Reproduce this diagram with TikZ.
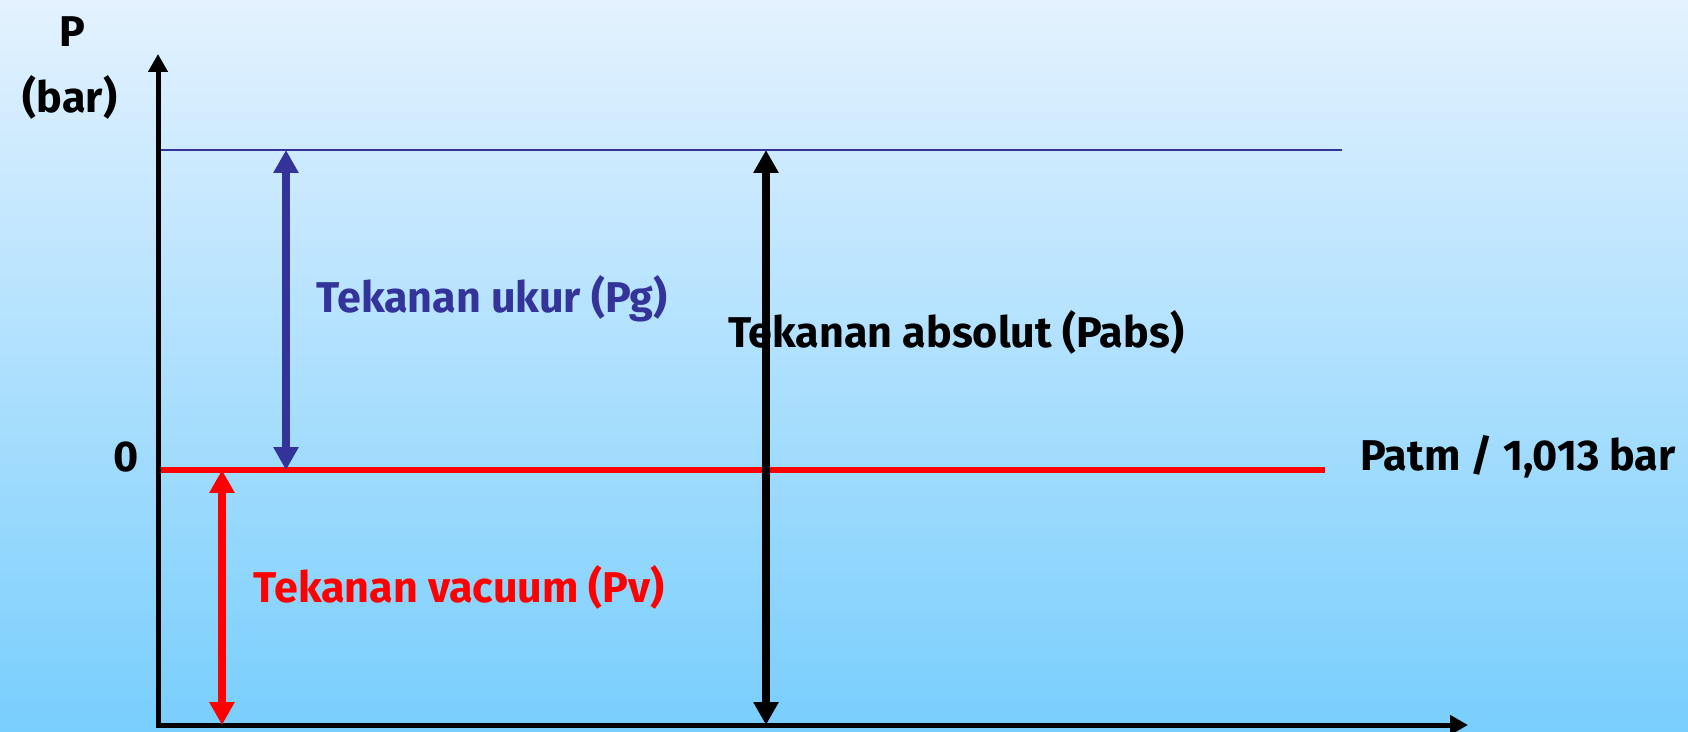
\documentclass[tikz,border=0pt]{standalone}
\usepackage{fontspec}
\setmainfont{Fira Sans}
\usepackage{xcolor}
\usepackage{tikz}
\usetikzlibrary{positioning,arrows.meta}
\definecolor{skytop}{RGB}{228,242,254}
\definecolor{skybot}{RGB}{120,206,253}
\definecolor{gaugeblue}{RGB}{51,51,153}

\tikzset{
  lbl/.style={font=\fontsize{24.5}{28}\selectfont\bfseries, inner sep=0pt},
  dimarrow/.style={<->, line width=0.16cm, >={Triangle[length=0.46cm, width=0.48cm]}},
}

\begin{document}
\begin{tikzpicture}[x=0.02cm, y=0.02cm]

% background
\shade[top color=skytop, bottom color=skybot] (0,0) rectangle (1688,731);
\useasboundingbox (0,0) rectangle (1688,731);

\coordinate (O) at (158,6);
\coordinate (ytop) at (158,677);
\coordinate (xend) at (1468,6);

% reference levels
\coordinate (absL) at (158,581);
\coordinate (absR) at (1342,581);
\coordinate (atmL) at (158,261);
\coordinate (atmR) at (1325,261);
\draw[gaugeblue, line width=0.05cm] (absL) -- (absR);
\draw[red, line width=0.11cm] (atmL) -- (atmR);

% axes
\draw[<->, line width=0.1cm, line join=miter, >={Triangle[length=0.36cm, width=0.38cm]}]
    (ytop) -- (O) -- (xend);

\node[lbl] (p) at (72,699) {P};
\node[lbl] (unit) at (70,634) {(bar)};
\node[lbl] (zero) at (126,274) {0};
\node[lbl] (patm) at (1518,274) {Patm / 1,013 bar};

% pressures
\coordinate (gtop) at (286,581);
\coordinate (gbot) at (286,261);
\coordinate (vtop) at (222,261);
\coordinate (vbot) at (222,6);
\coordinate (atop) at (766,581);
\coordinate (abot) at (766,6);

\node[lbl, text=gaugeblue] (pg) at (492,432) {Tekanan ukur (Pg)};
\node[lbl] (pabs) at (956,399) {Tekanan absolut (Pabs)};
\node[lbl, text=red] (pv) at (459,144) {Tekanan vacuum (Pv)};

\draw[dimarrow, gaugeblue] (gtop) -- (gbot);
\draw[dimarrow, red] (vtop) -- (vbot);
\draw[dimarrow, black] (atop) -- (abot);

\end{tikzpicture}
\end{document}
